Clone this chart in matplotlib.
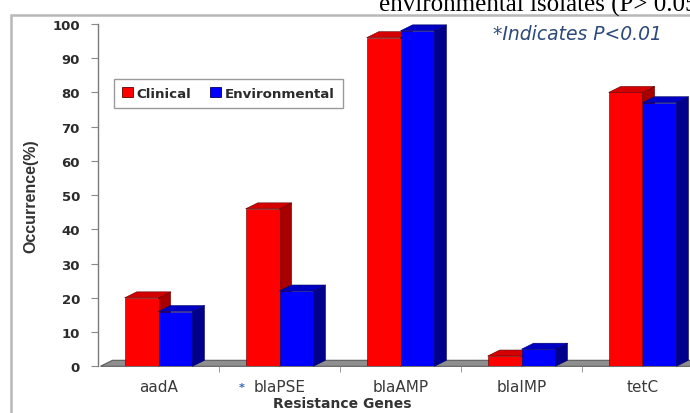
import matplotlib.pyplot as plt
from matplotlib.patches import Patch, Polygon, Rectangle

# data
genes = ["aadA", "blaPSE", "blaAMP", "blaIMP", "tetC"]
clinical = [20, 46, 96, 3, 80]
environmental = [16, 22, 98, 5, 77]
series_names = ["Clinical", "Environmental"]

# face colours: front, side, top, edge
red_faces = ("#ff0000", "#a80000", "#d40000", "#600000")
blue_faces = ("#0000ff", "#00008c", "#0000c4", "#000060")

bar_w = 0.28
DX, DY = 0.1, 1.75  # fake 3d depth (data units)

fig = plt.figure(figsize=(6.9, 4.14), dpi=100)
ax = fig.add_axes([98 / 690, 46.7 / 414, 605 / 690, 342.3 / 414])
ax.set_xlim(-0.5, 4.5)
ax.set_ylim(0, 100)

# floor slab
floor = Polygon([(-0.48, 0), (4.5, 0), (4.5 + DX, DY), (-0.48 + DX, DY)],
                closed=True, facecolor="#8f8f8f", edgecolor="#5c5c5c",
                linewidth=0.8, zorder=1, clip_on=False)
ax.add_patch(floor)


def draw_3d_bars(values, offset, faces, z):
    front, side, top, edge = faces
    lefts = [i + offset for i in range(len(values))]
    for x0, v in zip(lefts, values):
        x1 = x0 + bar_w
        ax.add_patch(Polygon([(x1, 0), (x1 + DX, DY), (x1 + DX, v + DY), (x1, v)],
                             closed=True, facecolor=side, edgecolor=edge,
                             linewidth=0.4, zorder=z, clip_on=False))
        ax.add_patch(Polygon([(x0, v), (x0 + DX, v + DY), (x1 + DX, v + DY), (x1, v)],
                             closed=True, facecolor=top, edgecolor=edge,
                             linewidth=0.4, zorder=z, clip_on=False))
    ax.bar(lefts, values, width=bar_w, align="edge", color=front,
           edgecolor=edge, linewidth=0.4, zorder=z + 0.5)


draw_3d_bars(clinical, -bar_w, red_faces, 2)
draw_3d_bars(environmental, 0.0, blue_faces, 3)

# axes styling
for side in ("top", "right", "bottom"):
    ax.spines[side].set_visible(False)
ax.spines["left"].set_color("#7a7a7a")
ax.spines["left"].set_linewidth(1.0)

ax.set_yticks(range(0, 101, 10))
ax.tick_params(axis="y", length=5, color="#8a8a8a", labelsize=9.5,
               labelcolor="#2b2b2b", pad=8)
for lab in ax.get_yticklabels():
    lab.set_fontweight("bold")

ax.set_xticks([0.5, 1.5, 2.5, 3.5], minor=True)
ax.set_xticks(range(len(genes)))
ax.set_xticklabels(genes)
ax.tick_params(axis="x", which="major", length=0, labelsize=11,
               labelcolor="#3a3a3a", pad=9)
ax.tick_params(axis="x", which="minor", length=4, color="#8a8a8a")

ax.set_xlabel("Resistance Genes", fontsize=10, fontweight="bold",
              color="#333333")
ax.xaxis.set_label_coords(0.403, -0.088)
ax.set_ylabel("Occurrence(%)", fontsize=11.5, fontweight="bold",
              family=["Liberation Sans", "DejaVu Sans"],
              color="#333333", labelpad=10)

# significance marker and note
fig.text(241.5 / 690, 1 - 388 / 414, "*", fontsize=8, fontweight="bold",
         color="#3060c0", ha="center", va="center")
fig.text(493 / 690, 1 - 35 / 414, "*Indicates P<0.01", fontsize=13.5,
         style="italic", color="#2d4a7a", ha="left", va="center")

legend_handles = [
    Patch(facecolor=red_faces[0], edgecolor=red_faces[3], linewidth=0.6),
    Patch(facecolor=blue_faces[0], edgecolor=blue_faces[3], linewidth=0.6),
]
leg = fig.legend(legend_handles, series_names, loc="upper left",
                 bbox_to_anchor=(114 / 690, 1 - 80 / 414), borderaxespad=0,
                 ncol=2, fancybox=False, edgecolor="#9a9a9a", framealpha=1,
                 handlelength=0.8, handleheight=0.8, handletextpad=0.3,
                 columnspacing=1.4, borderpad=0.6,
                 prop={"weight": "bold", "size": 9.6})
leg.get_frame().set_linewidth(1.0)
for t in leg.get_texts():
    t.set_color("#2b2b2b")

# outer chart frame (cropped screenshot)
fig.patches.append(Rectangle((11 / 690, -0.05), 1.1, 1 - 16 / 414 + 0.05,
                             transform=fig.transFigure, fill=False,
                             edgecolor="#b8b8b8", linewidth=1.8))

# cut-off caption above the chart
fig.text(379 / 690, 1 - 12 / 414, "environmental isolates (P> 0.05",
         fontsize=18, family="Liberation Serif", color="black",
         ha="left", va="baseline")

fig.savefig("out.png", dpi=100)
